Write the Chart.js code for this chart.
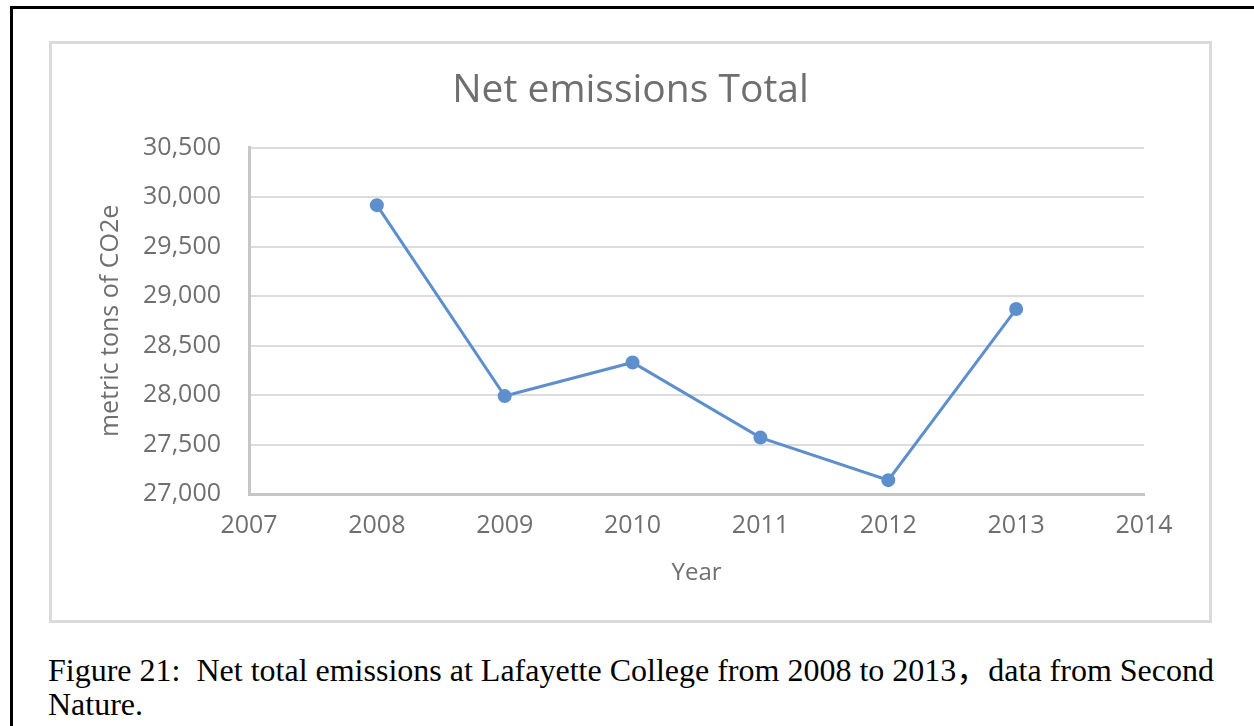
<!DOCTYPE html>
<html>
<head>
<meta charset="utf-8">
<script src="https://cdn.jsdelivr.net/npm/chart.js@4/dist/chart.umd.min.js"></script>
<style>
  body { margin: 0; background: #fff; width: 1254px; height: 726px; overflow: hidden; position: relative; }
  .page { position: absolute; left: 10px; top: 6px; width: 1300px; height: 800px; border-left: 3px solid #000; border-top: 3px solid #000; }
  .frame { position: absolute; left: 49px; top: 41px; width: 1157px; height: 576px; border: 3px solid #dadada; background: #fff; }
  #chart { position: absolute; left: 0; top: 0; }
  .caption { position: absolute; left: 48px; top: 650px; font-family: "Liberation Serif", "Times New Roman", serif; font-size: 32px; line-height: 34px; color: #000; white-space: pre; }
  .cjk { font-family: "Noto Sans CJK SC", sans-serif; }
</style>
</head>
<body>
<div class="page"></div>
<div class="frame"><canvas id="chart" width="1157" height="576"></canvas></div>
<div class="caption">Figure 21:  Net total emissions at Lafayette College from 2008 to 2013<span class="cjk">，</span>data from Second
Nature.</div>
<script>
// values
const years = [2008, 2009, 2010, 2011, 2012, 2013];
const netEmissions = [29920, 27990, 28330, 27570, 27140, 28870];
const yTicks = [27000, 27500, 28000, 28500, 29000, 29500, 30000, 30500];
const xTicks = [2007, 2008, 2009, 2010, 2011, 2012, 2013, 2014];

const grayText = '#6f6f6f';
const fontName = "'Open Sans', 'Liberation Sans', sans-serif";

var ctx = document.getElementById("chart").getContext("2d");
var chart = new Chart(ctx, {
    type: 'line',
    data: {
        datasets: [{
            label: 'Net emissions Total',
            data: years.map((y, i) => ({x: y, y: netEmissions[i]})),
            borderColor: '#5e8fcd',
            backgroundColor: '#5e8fcd',
            borderWidth: 3,
            pointRadius: 5.5,
            pointHoverRadius: 5.5,
            tension: 0
        }]
    },
    options: {
        responsive: false,
        animation: false,
        layout: { padding: { left: 44, right: 44, top: 0, bottom: 32 } },
        plugins: {
            legend: { display: false },
            tooltip: { enabled: false },
            title: {
                display: true,
                text: 'Net emissions Total',
                color: grayText,
                font: { family: fontName, size: 39, weight: 'normal' },
                padding: { top: 23, bottom: 34 }
            }
        },
        scales: {
            x: {
                type: 'linear',
                min: xTicks[0],
                max: xTicks[xTicks.length - 1],
                afterBuildTicks: s => { s.ticks = xTicks.map(v => ({value: v})); },
                afterFit: s => { s.height = 94; s.paddingRight = 65; },
                grid: { display: false, drawTicks: false },
                border: { display: true, color: '#c6c6c6', width: 3 },
                ticks: {
                    color: grayText,
                    font: { family: fontName, size: 25 },
                    padding: 17,
                    callback: v => String(v)
                },
                title: {
                    display: true,
                    text: 'Year',
                    color: grayText,
                    font: { family: fontName, size: 24 },
                    padding: { top: 0, bottom: 0 }
                }
            },
            y: {
                min: yTicks[0],
                max: yTicks[yTicks.length - 1],
                afterBuildTicks: s => { s.ticks = yTicks.map(v => ({value: v})); },
                afterFit: s => { s.width = 153; },
                grid: { color: '#dcdcdc', lineWidth: 2, drawTicks: false },
                border: { display: true, color: '#c6c6c6', width: 3 },
                ticks: {
                    color: grayText,
                    font: { family: fontName, size: 25 },
                    padding: 28,
                    callback: v => v.toLocaleString('en-US')
                },
                title: {
                    display: true,
                    text: 'metric tons of CO2e',
                    color: grayText,
                    font: { family: fontName, size: 25 },
                    padding: { top: 0, bottom: 0 }
                }
            }
        }
    }
});
</script>
</body>
</html>
